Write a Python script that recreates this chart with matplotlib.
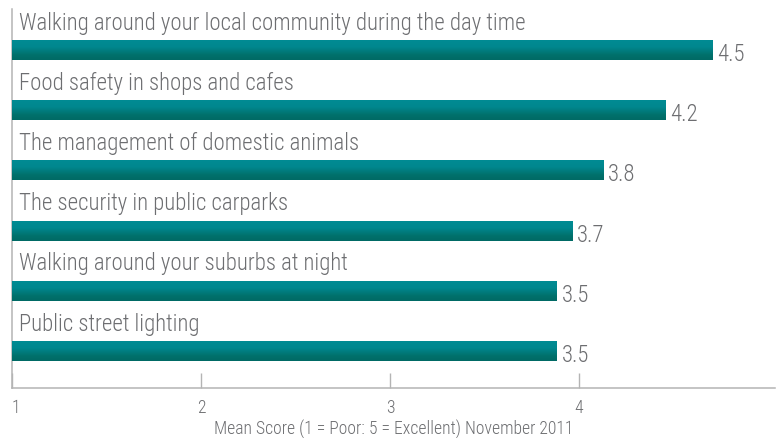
import matplotlib
matplotlib.use("Agg")
import matplotlib.pyplot as plt
import numpy as np
from matplotlib.colors import LinearSegmentedColormap
from matplotlib.font_manager import FontProperties

# ---- data ----
categories = [
    "Walking around your local community during the day time",
    "Food safety in shops and cafes",
    "The management of domestic animals",
    "The security in public carparks",
    "Walking around your suburbs at night",
    "Public street lighting",
]
bar_values = [4.5, 4.2, 3.8, 3.6, 3.5, 3.5]
value_labels = ["4.5", "4.2", "3.8", "3.7", "3.5", "3.5"]
tick_labels = ["1", "2", "3", "4"]
x_label = "Mean Score (1 = Poor: 5 = Excellent) November 2011"

# ---- style ----
TEXT = "#6d6e71"
AXIS = "#b4b4b4"
FAM = "Roboto Condensed"
fp_big = FontProperties(family=FAM, weight=300, size=16.4)
fp_small = FontProperties(family=FAM, weight=300, size=12.7)

fig = plt.figure(figsize=(7.78, 4.39), dpi=100)
ax = fig.add_axes([12 / 778, 1 - 389 / 439, (775 - 12) / 778, (389 - 10) / 439])

y = np.arange(len(categories))
bar_h = 0.332
bars = ax.barh(y, bar_values, height=bar_h, color="#007a7a", edgecolor="none", zorder=2)

cmap = LinearSegmentedColormap.from_list(
    "teal", [(0.0, "#008b93"), (0.35, "#00878e"), (0.75, "#00706b"), (1.0, "#006a65")]
)
grad = np.linspace(0, 1, 64).reshape(-1, 1)
for b in bars:
    x0, y0 = b.get_x(), b.get_y()
    w, h = b.get_width(), b.get_height()
    im = ax.imshow(grad, extent=[x0, x0 + w, y0 + h, y0], origin="upper",
                   aspect="auto", cmap=cmap, zorder=3)
    im.set_clip_path(b)

for i, (cat, v, lab) in enumerate(zip(categories, bar_values, value_labels)):
    ax.annotate(cat, xy=(0, i - bar_h / 2), xytext=(5.0, 8.2), textcoords="offset points",
                ha="left", va="baseline", color=TEXT, fontproperties=fp_big)
    ax.annotate(lab, xy=(v, i), xytext=(3.2, -2.4), textcoords="offset points",
                ha="left", va="center", color=TEXT, fontproperties=fp_big)

scale = 189 / 155.7
ax.set_xlim(0, (775 - 12) / 155.7)
ax.set_ylim(5.614, -0.683)
ax.set_xticks([(int(t) - 1) * scale for t in tick_labels])
ax.set_xticklabels(tick_labels, fontproperties=fp_small, color=TEXT)
ax.get_xticklabels()[0].set_horizontalalignment("left")
ax.set_yticks([])
ax.tick_params(axis="x", direction="in", length=11, width=1, color=AXIS, pad=7)
for s in ["top", "right"]:
    ax.spines[s].set_visible(False)
for s in ["left", "bottom"]:
    ax.spines[s].set_color(AXIS)
    ax.spines[s].set_linewidth(1.1)
ax.set_xlabel(x_label, fontproperties=fp_small, color=TEXT, labelpad=2)
ax.set_facecolor("white")

fig.savefig("out.png", dpi=100)
